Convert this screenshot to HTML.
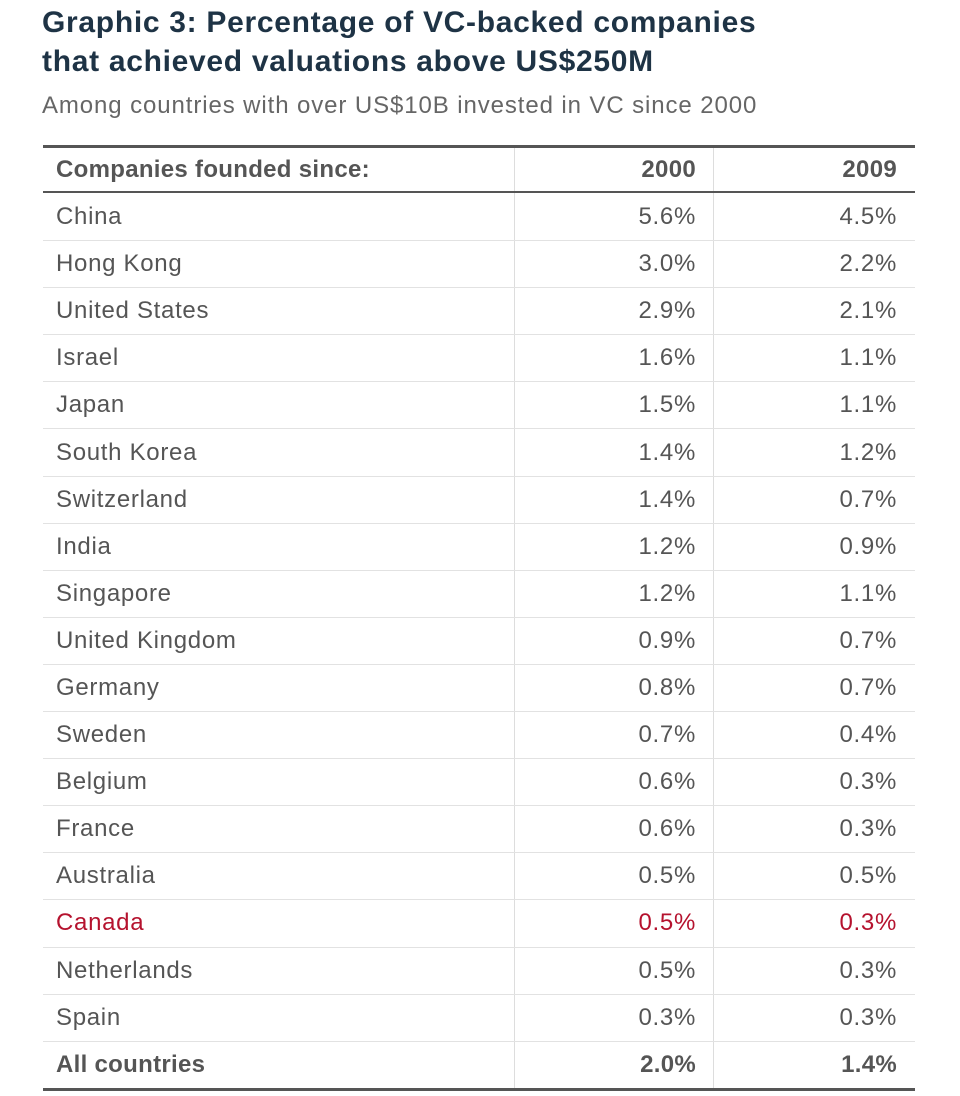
<!DOCTYPE html>
<html><head><meta charset="utf-8"><style>
*{margin:0;padding:0;box-sizing:border-box}
body{width:960px;height:1096px;background:#fff;font-family:"Liberation Sans",Arial,sans-serif;position:relative;overflow:hidden}
.t{position:absolute;left:42px;top:3px;font-size:30px;letter-spacing:0.7px;font-weight:bold;color:#1e3345;line-height:39px}
.s{position:absolute;left:42px;top:92px;font-size:24px;letter-spacing:0.9px;color:#666;}
.tbl{position:absolute;left:43px;top:145px;width:872px;border-top:3px solid #555;border-bottom:3px solid #555}
.r{display:flex;height:47.1px;align-items:center;border-top:1px solid #e2e2e2;font-size:24px;letter-spacing:0.7px;color:#555}
.r.h{height:45px;border-top:none;border-bottom:2px solid #555;font-weight:bold;letter-spacing:0.3px}
.r.h+.r{border-top:none}
.c1{width:471px;padding-left:13px;height:100%;display:flex;align-items:center}
.c2{width:199px;padding-right:17px;border-left:1px solid #ddd;height:100%;display:flex;align-items:center;justify-content:flex-end}
.c3{width:202px;padding-right:18px;border-left:1px solid #ddd;height:100%;display:flex;align-items:center;justify-content:flex-end}
.red{color:#b5122e}
.b{font-weight:bold;letter-spacing:0.3px}
</style></head><body>
<div class="t">Graphic 3: Percentage of VC-backed companies<br>that achieved valuations above US$250M</div>
<div class="s">Among countries with over US$10B invested in VC since 2000</div>
<div class="tbl">
<div class="r h"><div class="c1">Companies founded since:</div><div class="c2">2000</div><div class="c3">2009</div></div>
<div class="r"><div class="c1">China</div><div class="c2">5.6%</div><div class="c3">4.5%</div></div>
<div class="r"><div class="c1">Hong Kong</div><div class="c2">3.0%</div><div class="c3">2.2%</div></div>
<div class="r"><div class="c1">United States</div><div class="c2">2.9%</div><div class="c3">2.1%</div></div>
<div class="r"><div class="c1">Israel</div><div class="c2">1.6%</div><div class="c3">1.1%</div></div>
<div class="r"><div class="c1">Japan</div><div class="c2">1.5%</div><div class="c3">1.1%</div></div>
<div class="r"><div class="c1">South Korea</div><div class="c2">1.4%</div><div class="c3">1.2%</div></div>
<div class="r"><div class="c1">Switzerland</div><div class="c2">1.4%</div><div class="c3">0.7%</div></div>
<div class="r"><div class="c1">India</div><div class="c2">1.2%</div><div class="c3">0.9%</div></div>
<div class="r"><div class="c1">Singapore</div><div class="c2">1.2%</div><div class="c3">1.1%</div></div>
<div class="r"><div class="c1">United Kingdom</div><div class="c2">0.9%</div><div class="c3">0.7%</div></div>
<div class="r"><div class="c1">Germany</div><div class="c2">0.8%</div><div class="c3">0.7%</div></div>
<div class="r"><div class="c1">Sweden</div><div class="c2">0.7%</div><div class="c3">0.4%</div></div>
<div class="r"><div class="c1">Belgium</div><div class="c2">0.6%</div><div class="c3">0.3%</div></div>
<div class="r"><div class="c1">France</div><div class="c2">0.6%</div><div class="c3">0.3%</div></div>
<div class="r"><div class="c1">Australia</div><div class="c2">0.5%</div><div class="c3">0.5%</div></div>
<div class="r red"><div class="c1">Canada</div><div class="c2">0.5%</div><div class="c3">0.3%</div></div>
<div class="r"><div class="c1">Netherlands</div><div class="c2">0.5%</div><div class="c3">0.3%</div></div>
<div class="r"><div class="c1">Spain</div><div class="c2">0.3%</div><div class="c3">0.3%</div></div>
<div class="r b"><div class="c1">All countries</div><div class="c2">2.0%</div><div class="c3">1.4%</div></div>
</div>
</body></html>
